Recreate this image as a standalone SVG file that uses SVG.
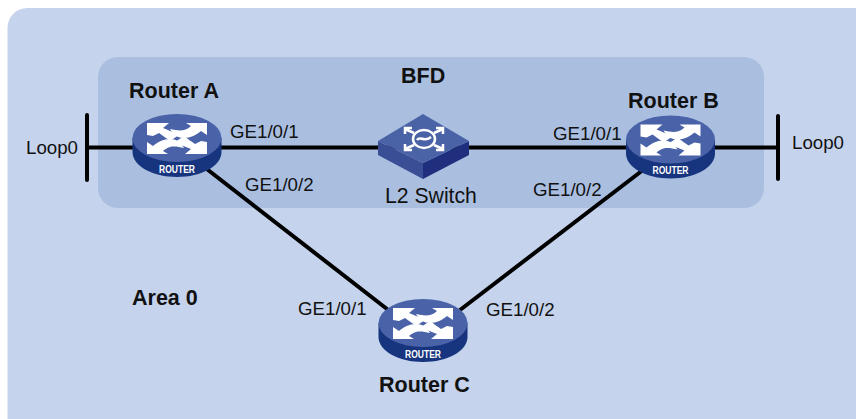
<svg xmlns="http://www.w3.org/2000/svg" width="856" height="419" viewBox="0 0 856 419">
<style>
text{font-family:"Liberation Sans",Arial,sans-serif;font-size:18.700px;fill:#111}
.b{font-weight:bold;font-size:21.500px}
.l{stroke:#000;stroke-width:4;fill:none;stroke-linecap:round}
.rt{font-size:10px;font-weight:bold;fill:#fff;text-anchor:middle}
</style>
<defs>
<g id="arrows" fill="#fff">
<path d="M-30-15H-8L-14-10C-9-8-4-6 2-3L-7 3C-11 0-15-3-18-5L-24-2L-30-3Z"/>
<path d="M30-15V-3L24-7C19-3 14 0 7 0C1 0-4-3-7-9C-2-8 3-7 7-8C10-9 12-10 14-12L9-15Z"/>
<path d="M-30 16V4L-24 8C-19 4-14 1-7 1C-1 1 4 4 7 10C2 9-3 8-7 9C-10 10-12 11-14 13L-9 16Z"/>
<path d="M30 16H8L14 11C9 9 4 7-2 4L7-2C11 1 15 4 18 6L24 3L30 4Z"/>
</g>
<g id="router">
<path d="M-44.500 0V14C-44.500 28 -24.500 39 0 39S44.500 28 44.500 14V0Z" fill="#17357e"/>
<ellipse cx="0" cy="0" rx="44.500" ry="24" fill="#4a62a8"/>
<use href="#arrows" y="0"/>
<text class="rt" x="0" y="34.500" textLength="36" lengthAdjust="spacingAndGlyphs">ROUTER</text>
</g>
</defs>
<rect x="7.500" y="8" width="880" height="440" rx="20" fill="#c5d3ec"/>
<rect x="98" y="57" width="666" height="151" rx="20" fill="#aabfe0"/>
<g id="connectors">
<path class="l" d="M87 147.500H778M87 115V180M778 116V179M190 156L387 309M660 157L460 310"/>
</g>
<g id="router-a"><use href="#router" x="177" y="138"/><text class="b" x="129" y="98">Router A</text></g>
<g id="router-b"><use href="#router" x="670.500" y="139.500"/><text class="b" x="628" y="108">Router B</text></g>
<g id="router-c"><use href="#router" x="423" y="323"/><text class="b" x="379" y="392">Router C</text></g>
<g id="switch">
<path d="M378 141V155L423 179V163Z" fill="#3a4e96"/>
<path d="M423 163V179L469 155V141Z" fill="#1f2f7d"/>
<path d="M423 114L378 141L423 163L469 141Z" fill="#4a62a6"/>
<g fill="none" stroke="#fff" stroke-width="2.500"><ellipse cx="424" cy="139" rx="11" ry="9"/><path d="M405 129L414 133M443 129L434 133M405 149L414 145M443 149L434 145M405 134V128H412M443 134V128H436M405 144V150H412M443 144V150H436M417 140C420 135 424 143 431 137"/></g>
<text x="385" y="203" style="font-size:21.200px">L2 Switch</text>
</g>
<g id="labels">
<text class="b" x="401" y="83">BFD</text>
<text class="b" x="132" y="305">Area 0</text>
<text x="26" y="154">Loop0</text>
<text x="792" y="149">Loop0</text>
<text x="230" y="138">GE1/0/1</text>
<text x="245" y="191">GE1/0/2</text>
<text x="553" y="140">GE1/0/1</text>
<text x="533" y="196">GE1/0/2</text>
<text x="298" y="315">GE1/0/1</text>
<text x="486" y="316">GE1/0/2</text>
</g>
</svg>
